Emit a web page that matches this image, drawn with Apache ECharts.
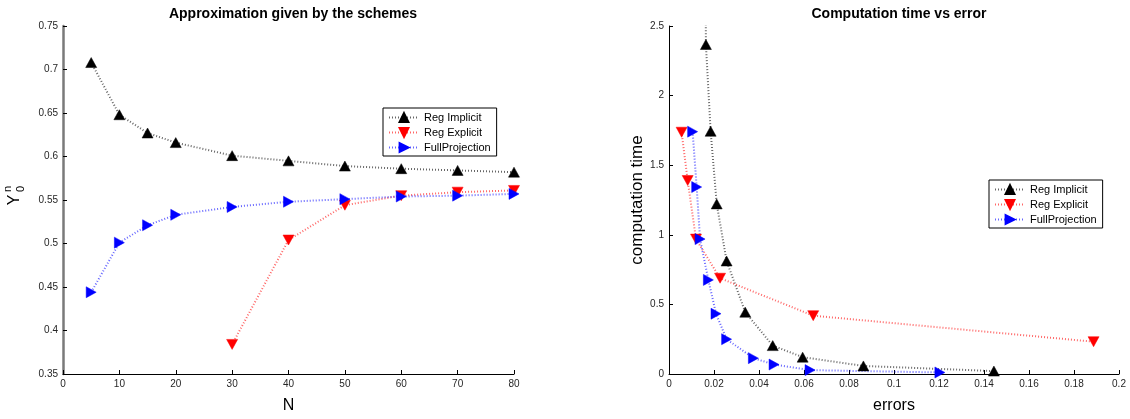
<!DOCTYPE html>
<html>
<head>
<meta charset="utf-8">
<script src="https://cdn.jsdelivr.net/npm/echarts@6/dist/echarts.min.js"></script>
<style>
html,body{margin:0;padding:0;background:#fff;}
#c{width:1130px;height:419px;}
</style>
</head>
<body>
<div id="c"></div>
<script>
// ---- Left plot: approximation vs N ----
const N_implicit = [5, 10, 15, 20, 30, 40, 50, 60, 70, 80];
const Y_implicit = [0.708, 0.648, 0.627, 0.616, 0.601, 0.595, 0.589, 0.586, 0.584, 0.582];
const N_explicit = [30, 40, 50, 60, 70, 80];
const Y_explicit = [0.384, 0.504, 0.544, 0.555, 0.559, 0.561];
const N_fullproj = [5, 10, 15, 20, 30, 40, 50, 60, 70, 80];
const Y_fullproj = [0.444, 0.501, 0.521, 0.533, 0.542, 0.548, 0.551, 0.554, 0.555, 0.557];

// ---- Right plot: computation time vs error ----
const err_implicit = [0.0160, 0.0164, 0.0185, 0.0212, 0.0256, 0.0339, 0.0461, 0.0594, 0.0864, 0.1444];
const time_implicit = [4.0, 2.367, 1.744, 1.222, 0.812, 0.444, 0.204, 0.121, 0.058, 0.021];
const err_explicit = [0.0056, 0.0083, 0.0120, 0.0227, 0.0641, 0.1887];
const time_explicit = [1.737, 1.390, 0.969, 0.688, 0.419, 0.232];
const err_fullproj = [0.0105, 0.0123, 0.0138, 0.0175, 0.0209, 0.0256, 0.0375, 0.0467, 0.0627, 0.1204];
const time_fullproj = [1.741, 1.343, 0.969, 0.676, 0.433, 0.250, 0.114, 0.068, 0.028, 0.011];

const seriesNames = ['Reg Implicit', 'Reg Explicit', 'FullProjection'];
const seriesColors = ['#000000', '#ff0000', '#0000ff'];

const leftTitle = 'Approximation given by the schemes';
const rightTitle = 'Computation time vs error';

function pairs(xs, ys){ return xs.map((x,i)=>[x, ys[i]]); }

const symbols = [
  {symbol:'triangle', rotate:0, size:[11,10]},
  {symbol:'triangle', rotate:180, size:[11,10]},
  {symbol:'triangle', rotate:-90, size:[11,10]}
];

function mkSeries(idx, data, xi){
  return {
    name: seriesNames[idx], type:'line', xAxisIndex:xi, yAxisIndex:xi,
    data: data, symbol: symbols[idx].symbol, symbolRotate: symbols[idx].rotate,
    symbolSize: symbols[idx].size, showAllSymbol:true, clip:true,
    itemStyle:{color: seriesColors[idx], borderColor: seriesColors[idx], borderWidth:0.5},
    lineStyle:{color: seriesColors[idx], width:2, type:[1,2], opacity:0.6},
    emphasis:{disabled:true}, animation:false
  };
}

const axisLabelStyle = {color:'#262626', fontSize:10, fontFamily:'Liberation Sans, Arial, sans-serif'};
const font = 'Liberation Sans, Arial, sans-serif';

function xAxis(gi, min, max, interval, name){
  return {type:'value', gridIndex:gi, min:min, max:max, interval:interval,
    name:name, nameLocation:'middle', nameGap:24,
    nameTextStyle:{fontSize:16, color:'#000', fontFamily:font},
    axisLine:{show:true, onZero:false, lineStyle:{color:'#000', width:1}},
    axisTick:{show:true, inside:true, length:4, lineStyle:{color:'#000'}},
    axisLabel:{...axisLabelStyle, margin:5},
    splitLine:{show:false}};
}
function yAxis(gi, min, max, interval, name, lineColor, lineWidth){
  return {type:'value', gridIndex:gi, min:min, max:max, interval:interval,
    name:name, nameLocation:'middle', nameGap:23, nameRotate:90,
    nameTextStyle:{fontSize:17, color:'#000', fontFamily:font},
    axisLine:{show:true, onZero:false, lineStyle:{color:lineColor, width:lineWidth}},
    axisTick:{show:true, inside:true, length:4, lineStyle:{color:'#000'}},
    axisLabel:{...axisLabelStyle, margin:5},
    splitLine:{show:false}};
}

function legend(left, top){
  return {orient:'vertical', left:left, top:top, data:seriesNames,
    backgroundColor:'#fff', borderColor:'#000', borderWidth:1, borderRadius:0,
    padding:[4,6,3,5], itemGap:4, itemWidth:30, itemHeight:11,
    textStyle:{fontSize:11, color:'#000', fontFamily:font}, selectedMode:false};
}

const chart = echarts.init(document.getElementById('c'), null, {renderer:'canvas'});
chart.setOption({
  backgroundColor:'#fff',
  animation:false,
  title:[
    {text:leftTitle, left:288, top:2, textAlign:'center',
     textStyle:{fontSize:14, fontWeight:'bold', color:'#000', fontFamily:font}},
    {text:rightTitle, left:894, top:2, textAlign:'center',
     textStyle:{fontSize:14, fontWeight:'bold', color:'#000', fontFamily:font}}
  ],
  grid:[
    {left:63, right:616, top:26, bottom:37, containLabel:false},
    {left:669, right:11, top:26, bottom:37, containLabel:false}
  ],
  xAxis:[ xAxis(0, 0, 80, 10, 'N'), xAxis(1, 0, 0.2, 0.02, 'errors') ],
  yAxis:[ yAxis(0, 0.35, 0.75, 0.05, '', '#7a7a7a', 2.5),
          yAxis(1, 0, 2.5, 0.5, 'computation time', '#000', 1) ],
  legend:[ legend(383, 108), legend(989, 180) ],
  series:[
    mkSeries(0, pairs(N_implicit, Y_implicit), 0),
    mkSeries(1, pairs(N_explicit, Y_explicit), 0),
    mkSeries(2, pairs(N_fullproj, Y_fullproj), 0),
    mkSeries(0, pairs(err_implicit, time_implicit), 1),
    mkSeries(1, pairs(err_explicit, time_explicit), 1),
    mkSeries(2, pairs(err_fullproj, time_fullproj), 1)
  ],
  graphic:[
    {type:'group', x:15, y:200, rotation:Math.PI/2, children:[
      {type:'text', x:0, y:0, style:{text:'Y', fontSize:16, fill:'#000', fontFamily:font, align:'center', verticalAlign:'middle'}},
      {type:'text', x:11, y:-7, style:{text:'n', fontSize:11, fill:'#000', fontFamily:font, align:'center', verticalAlign:'middle'}},
      {type:'text', x:11, y:6, style:{text:'0', fontSize:11, fill:'#000', fontFamily:font, align:'center', verticalAlign:'middle'}}
    ]}
  ]
});
</script>
</body>
</html>
